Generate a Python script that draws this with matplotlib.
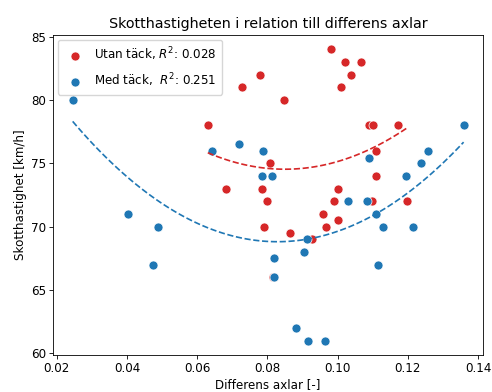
import numpy as np
import matplotlib
matplotlib.use('Agg')
import matplotlib.pyplot as plt

# data
utan_x = [0.0630, 0.0681, 0.0727, 0.0779, 0.0784, 0.0791, 0.0800, 0.0807, 0.0815, 0.0847,
          0.0863, 0.0926, 0.0959, 0.0967, 0.0980, 0.0990, 0.1002, 0.1002, 0.1009, 0.1020,
          0.1039, 0.1068, 0.1090, 0.1099, 0.1101, 0.1109, 0.1110, 0.1172, 0.1198]
utan_y = [78, 73, 81, 82, 73, 70, 72, 75, 66, 80,
          69.5, 69, 71, 70, 84, 72, 73, 70.5, 81, 83,
          82, 83, 78, 72, 78, 76, 74, 78, 72]

med_x = [0.0245, 0.0402, 0.0473, 0.0489, 0.0643, 0.0718, 0.0784, 0.0788, 0.0814, 0.0819,
         0.0820, 0.0880, 0.0903, 0.0914, 0.0917, 0.0963, 0.1031, 0.1085, 0.1089, 0.1110,
         0.1116, 0.1130, 0.1195, 0.1215, 0.1239, 0.1257, 0.1359]
med_y = [80, 71, 67, 70, 76, 76.5, 74, 76, 74, 66,
         67.5, 62, 68, 69, 61, 61, 72, 72, 75.4, 71,
         67, 70, 74, 70, 75, 76, 78]

utan_label = 'Utan täck, $R^2$: 0.028'
med_label = 'Med täck,  $R^2$: 0.251'


def fit_line(ax, x, y, color):
    coef = np.polyfit(x, y, 2)
    xs = np.linspace(min(x), max(x), 100)
    ax.plot(xs, np.polyval(coef, xs), '--', color=color, linewidth=1.2)


fig = plt.figure(figsize=(4.92, 3.92), dpi=100)
ax = fig.add_axes([0.108, 0.094, 0.874, 0.817])

ax.scatter(utan_x, utan_y, s=42, color='tab:red', edgecolors='white', linewidths=0.5,
           label=utan_label, zorder=2)
ax.scatter(med_x, med_y, s=42, color='tab:blue', edgecolors='white', linewidths=0.5,
           label=med_label, zorder=2)
fit_line(ax, utan_x, utan_y, 'tab:red')
fit_line(ax, med_x, med_y, 'tab:blue')

ax.set_title('Skotthastigheten i relation till differens axlar', fontsize=10.3, pad=5)
ax.set_xlabel('Differens axlar [-]', fontsize=8.6, labelpad=2)
ax.set_ylabel('Skotthastighet [km/h]', fontsize=8.6, labelpad=3)
ax.tick_params(labelsize=8.6, length=3, width=0.6, pad=2)
for sp in ax.spines.values():
    sp.set_linewidth(0.6)
ax.set_xticks([0.02, 0.04, 0.06, 0.08, 0.10, 0.12, 0.14])
ax.set_yticks([60, 65, 70, 75, 80, 85])
ax.legend(loc='upper left', fontsize=8.6, handletextpad=0.6, borderpad=0.45,
          labelspacing=0.75, borderaxespad=0.4)

fig.savefig('out.png', dpi=100)
